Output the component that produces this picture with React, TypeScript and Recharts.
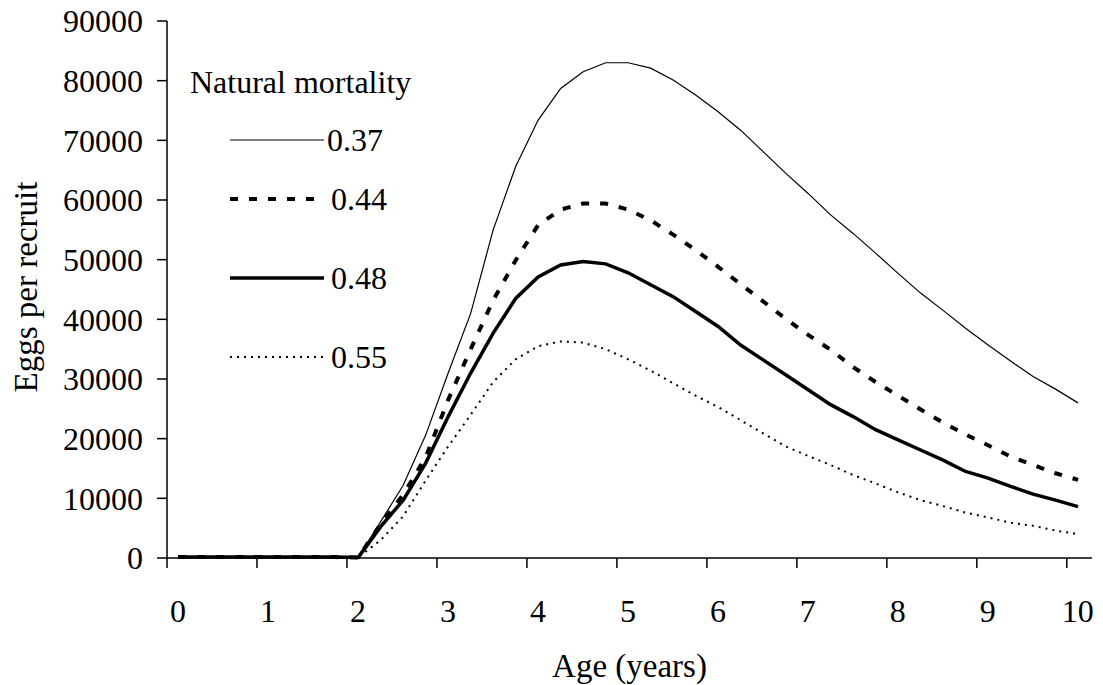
import { LineChart, Line, XAxis, YAxis } from 'recharts'

// ages (years) at which eggs per recruit were computed
const ages = [
  0.125, 0.375, 0.625, 0.875, 1.125, 1.375, 1.625, 1.875,
  2.125, 2.375, 2.625, 2.875, 3.125, 3.375, 3.625, 3.875,
  4.125, 4.375, 4.625, 4.875, 5.125, 5.375, 5.625, 5.875,
  6.125, 6.375, 6.625, 6.875, 7.125, 7.375, 7.625, 7.875,
  8.125, 8.375, 8.625, 8.875, 9.125, 9.375, 9.625, 9.875, 10.125,
]

const m037 = [
  150, 150, 150, 150, 150, 150, 150, 150,
  100, 6100, 12200, 20600, 31000, 41000, 55000, 65600, 73400, 78700,
  81500, 83000, 83000, 82100, 80100, 77600, 74800, 71700, 68100, 64500,
  61100, 57500, 54400, 51100, 47700, 44400, 41500, 38500, 35700, 33000,
  30400, 28300, 26000,
]
const m044 = [
  150, 150, 150, 150, 150, 150, 150, 150,
  100, 5700, 10600, 16900, 26500, 35000, 43200, 49900, 55800, 58400,
  59400, 59400, 58400, 56600, 54200, 51600, 48800, 45900, 43000, 40100,
  37400, 34900, 32000, 29500, 27200, 24900, 22700, 20700, 18900, 17000,
  15600, 14200, 13100,
]
const m048 = [
  150, 150, 150, 150, 150, 150, 150, 150,
  100, 5250, 9700, 15900, 23700, 31000, 37700, 43500, 47100, 49100,
  49700, 49300, 47800, 45800, 43800, 41300, 38800, 35700, 33200, 30700,
  28200, 25700, 23700, 21500, 19800, 18100, 16400, 14500, 13400, 12000,
  10700, 9700, 8600,
]
const m055 = [
  150, 150, 150, 150, 150, 150, 150, 150,
  100, 3000, 7000, 13000, 18700, 24000, 29500, 33300, 35500, 36300,
  36100, 35000, 33300, 31400, 29300, 27200, 25300, 23100, 20900, 18700,
  17100, 15600, 13900, 12500, 11000, 9700, 8700, 7600, 6800, 5900,
  5400, 4600, 4000,
]

const xTicks = [0, 1, 2, 3, 4, 5, 6, 7, 8, 9, 10]
const yTicks = [0, 10000, 20000, 30000, 40000, 50000, 60000, 70000, 80000, 90000]

const series = [
  { key: 'm037', name: '0.37', width: 1.2, dash: undefined },
  { key: 'm044', name: '0.44', width: 4, dash: '8 11' },
  { key: 'm048', name: '0.48', width: 3.5, dash: undefined },
  { key: 'm055', name: '0.55', width: 2, dash: '2 5' },
]

const data = ages.map((age, i) => ({
  age,
  m037: m037[i],
  m044: m044[i],
  m048: m048[i],
  m055: m055[i],
}))

const FONT = '"Liberation Serif", "Times New Roman", serif'

const legendRows = [
  { top: 140, textLeft: 327 },
  { top: 199, textLeft: 331 },
  { top: 278, textLeft: 331 },
  { top: 357, textLeft: 331 },
]

function XTick({ x, y, payload }: any) {
  return (
    <text x={x + 11} y={y} dy="0.71em" textAnchor="middle" fontSize={32} fill="#000" fontFamily={FONT}>
      {payload.value}
    </text>
  )
}

export default function App() {
  return (
    <div style={{ position: 'absolute', left: 0, top: 0, width: 1103, height: 685, background: '#fff', fontFamily: FONT }}>
      <LineChart width={1103} height={685} data={data} margin={{ top: 21, right: 11, left: 0, bottom: 0 }}>
        <XAxis
          dataKey="age"
          type="number"
          domain={[0, 10.28]}
          ticks={xTicks}
          allowDataOverflow
          height={127}
          tickSize={10}
          tickMargin={31}
          tick={<XTick />}
          axisLine={{ stroke: '#000', strokeWidth: 1.5 }}
          tickLine={{ stroke: '#000', strokeWidth: 1.5 }}
          label={{
            content: ({ viewBox }: any) => (
              <text
                x={viewBox.x + viewBox.width / 2}
                y={666}
                textAnchor="middle"
                dominantBaseline="central"
                fontSize={33}
                fill="#000"
                fontFamily={FONT}
              >
                Age (years)
              </text>
            ),
          }}
        />
        <YAxis
          type="number"
          domain={[0, 90000]}
          ticks={yTicks}
          width={167}
          tickSize={10}
          tickMargin={14}
          tick={{ fill: '#000', fontSize: 32, fontFamily: FONT }}
          axisLine={{ stroke: '#000', strokeWidth: 1.5 }}
          tickLine={{ stroke: '#000', strokeWidth: 1.5 }}
          label={{
            content: () => (
              <text
                x={26}
                y={287}
                transform="rotate(-90 26 287)"
                textAnchor="middle"
                dominantBaseline="central"
                fontSize={33}
                fill="#000"
                fontFamily={FONT}
              >
                Eggs per recruit
              </text>
            ),
          }}
        />
        {series.map((s) => (
          <Line
            key={s.key}
            type="linear"
            dataKey={s.key}
            name={s.name}
            stroke="#000"
            strokeWidth={s.width}
            strokeDasharray={s.dash}
            dot={false}
            activeDot={false}
            isAnimationActive={false}
          />
        ))}
      </LineChart>
      <div style={{ position: 'absolute', left: 190, top: 82, transform: 'translateY(-50%)', fontSize: 32, lineHeight: 1, whiteSpace: 'nowrap' }}>
        Natural mortality
      </div>
      {series.map((s, i) => (
        <div key={s.key}>
          <svg style={{ position: 'absolute', left: 230, top: legendRows[i].top - 5 }} width={94} height={10}>
            <line x1={0} y1={5} x2={94} y2={5} stroke="#000" strokeWidth={s.width} strokeDasharray={s.dash} />
          </svg>
          <div
            style={{
              position: 'absolute',
              left: legendRows[i].textLeft,
              top: legendRows[i].top,
              transform: 'translateY(-50%)',
              fontSize: 32,
              lineHeight: 1,
            }}
          >
            {s.name}
          </div>
        </div>
      ))}
    </div>
  )
}
